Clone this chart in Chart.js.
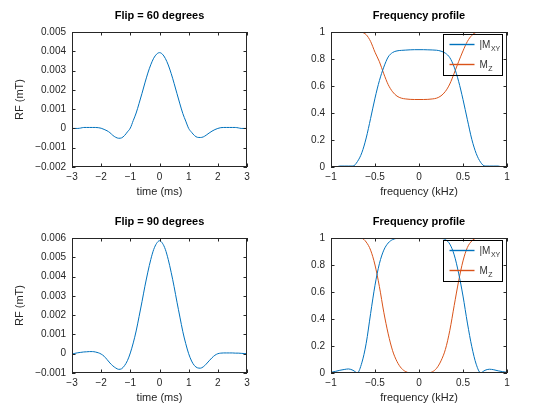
<!DOCTYPE html>
<html>
<head>
<meta charset="utf-8">
<script src="https://cdn.jsdelivr.net/npm/chart.js@4.4.1/dist/chart.umd.min.js"></script>
<style>
  html, body { margin: 0; padding: 0; background: #fff; }
  #fig { position: relative; width: 560px; height: 420px; }
  #fig canvas { position: absolute; }
</style>
</head>
<body>
<div id="fig">
  <canvas id="rf60" width="280" height="210" style="left:0;top:0"></canvas>
  <canvas id="prof60" width="280" height="210" style="left:280px;top:0"></canvas>
  <canvas id="rf90" width="280" height="210" style="left:0;top:210px"></canvas>
  <canvas id="prof90" width="280" height="210" style="left:280px;top:210px"></canvas>
</div>
<script>
// time axis of the RF pulses (ms)
const timeMs = [-3.0, -2.9, -2.8, -2.7, -2.6, -2.5, -2.4, -2.3, -2.2, -2.1, -2.0, -1.9, -1.8, -1.7, -1.6, -1.5,
  -1.4, -1.3, -1.2, -1.1, -1.0, -0.9, -0.8, -0.7, -0.6, -0.5, -0.4, -0.3, -0.2, -0.1, 0.0,
  0.1, 0.2, 0.3, 0.4, 0.5, 0.6, 0.7, 0.8, 0.9, 1.0, 1.1, 1.2, 1.3, 1.4, 1.5,
  1.6, 1.7, 1.8, 1.9, 2.0, 2.1, 2.2, 2.3, 2.4, 2.5, 2.6, 2.7, 2.8, 2.9, 3.0];

// RF amplitude (mT), flip = 60 degrees
const rf60 = [0, 0, 0, 0.00002, 0.00005, 0.00005, 0.00005, 0.00005, 0.00005, 0.00004, 0.00001, -0.00005, -0.00012, -0.00022, -0.00036, -0.00046,
  -0.00051, -0.00049, -0.00037, -0.00018, 0.00002, 0.00041, 0.00080, 0.00130, 0.00182, 0.00236, 0.00287, 0.00330, 0.00364, 0.00385, 0.00393,
  0.00385, 0.00363, 0.00329, 0.00285, 0.00234, 0.00180, 0.00127, 0.00077, 0.00038, 0.00000, -0.00020, -0.00037, -0.00046, -0.00047, -0.00044,
  -0.00035, -0.00024, -0.00014, -0.00006, 0.00000, 0.00004, 0.00005, 0.00005, 0.00005, 0.00005, 0.00005, 0.00003, 0, 0, 0];

// RF amplitude (mT), flip = 90 degrees
const rf90 = [-0.00002, 0.00002, 0.00005, 0.00007, 0.00009, 0.00010, 0.00011, 0.00011, 0.00009, 0.00005, -0.00002, -0.00013, -0.00030, -0.00048, -0.00063, -0.00074,
  -0.00081, -0.00078, -0.00062, -0.00036, 0.00004, 0.00056, 0.00118, 0.00193, 0.00270, 0.00350, 0.00423, 0.00488, 0.00540, 0.00572, 0.00586,
  0.00573, 0.00541, 0.00488, 0.00422, 0.00348, 0.00267, 0.00190, 0.00114, 0.00052, 0.00000, -0.00038, -0.00062, -0.00073, -0.00075, -0.00068,
  -0.00054, -0.00037, -0.00021, -0.00008, 0.00000, 0.00003, 0.00004, 0.00004, 0.00004, 0.00004, 0.00003, 0.00003, 0.00002, 0.00001, 0.00000];

// frequency axis of the slice profiles (kHz)
const freqKHz = [-1.0, -0.95, -0.9, -0.85, -0.8, -0.75, -0.7, -0.65, -0.6, -0.55, -0.5, -0.45, -0.4, -0.35, -0.3, -0.25, -0.2, -0.15, -0.1, -0.05, 0.0,
  0.05, 0.1, 0.15, 0.2, 0.25, 0.3, 0.35, 0.4, 0.45, 0.5, 0.55, 0.6, 0.65, 0.7, 0.75, 0.8, 0.85, 0.9, 0.95, 1.0];

// |Mxy| and Mz, flip = 60 degrees
const mxy60 = [0, 0, 0.007, 0.007, 0.007, 0.007, 0.04, 0.105, 0.215, 0.36, 0.51, 0.64, 0.74, 0.815, 0.848, 0.86, 0.864, 0.866, 0.868, 0.869, 0.869,
  0.869, 0.868, 0.867, 0.865, 0.858, 0.843, 0.81, 0.74, 0.635, 0.5, 0.35, 0.205, 0.1, 0.035, 0.007, 0.007, 0.007, 0.007, 0, 0];
const mz60 = [1, 1, 1, 1, 1, 1, 1, 0.998, 0.98, 0.93, 0.85, 0.78, 0.69, 0.61, 0.557, 0.525, 0.51, 0.504, 0.501, 0.5, 0.5,
  0.5, 0.501, 0.504, 0.51, 0.527, 0.56, 0.615, 0.695, 0.78, 0.86, 0.93, 0.975, 0.997, 1, 1, 1, 1, 1, 1, 1];

// |Mxy| and Mz, flip = 90 degrees
const mxy90 = [0.005, 0.012, 0.02, 0.026, 0.03, 0.02, 0.002, 0.075, 0.22, 0.44, 0.65, 0.81, 0.91, 0.963, 0.988, 0.998, 1, 1, 1, 1, 1,
  1, 1, 1, 1, 0.998, 0.988, 0.955, 0.875, 0.74, 0.57, 0.37, 0.195, 0.065, 0.002, 0.02, 0.028, 0.024, 0.016, 0.01, 0.005];
const mz90 = [1, 1, 1, 1, 1, 1, 1, 0.998, 0.97, 0.91, 0.80, 0.64, 0.45, 0.29, 0.165, 0.085, 0.035, 0.01, 0, 0, 0,
  0, 0, 0.008, 0.035, 0.09, 0.175, 0.315, 0.5, 0.68, 0.83, 0.93, 0.978, 0.998, 1, 1, 1, 1, 1, 1, 1];

const BLUE = '#0072bd';
const ORANGE = '#d95319';
const AXIS_COLOR = '#262626';
const TICK_LEN = 3.5;

// legend entries of the profile plots
const legendLabels = ['|M', 'M'];
const legendSubs = ['XY', 'Z'];
const legendColors = [BLUE, ORANGE];

Chart.defaults.font.family = '"Liberation Sans", Arial, sans-serif';
Chart.defaults.color = AXIS_COLOR;

const toPoints = (xs, ys) => xs.map((x, i) => ({ x: x, y: ys[i] }));
const fmtTick = v => String(Math.round(v * 1e6) / 1e6).replace('-', '\u2212');

// frame, inward ticks on all four sides, bold title and the boxed legend (Octave look)
const octaveAxes = {
  id: 'octaveAxes',
  afterDatasetsDraw(chart, args, opts) {
    const { ctx, chartArea: a } = chart;
    const xs = chart.scales.x, ys = chart.scales.y;
    ctx.save();
    ctx.strokeStyle = AXIS_COLOR;
    ctx.lineWidth = 1;
    ctx.beginPath();
    xs.ticks.forEach(t => {
      const px = Math.round(xs.getPixelForValue(t.value)) + 0.5;
      ctx.moveTo(px, a.top); ctx.lineTo(px, a.top + TICK_LEN);
      ctx.moveTo(px, a.bottom); ctx.lineTo(px, a.bottom - TICK_LEN);
    });
    ys.ticks.forEach(t => {
      const py = Math.round(ys.getPixelForValue(t.value)) + 0.5;
      ctx.moveTo(a.left, py); ctx.lineTo(a.left + TICK_LEN, py);
      ctx.moveTo(a.right, py); ctx.lineTo(a.right - TICK_LEN, py);
    });
    ctx.stroke();
    ctx.strokeRect(a.left + 0.5, a.top + 0.5, a.right - a.left - 1, a.bottom - a.top - 1);

    if (opts.title) {
      ctx.fillStyle = '#000';
      ctx.font = 'bold 11px "Liberation Sans", Arial, sans-serif';
      ctx.textAlign = 'center';
      ctx.textBaseline = 'alphabetic';
      ctx.fillText(opts.title, (a.left + a.right) / 2, a.top - 13.5);
    }

    if (opts.showLegend) {
      const bw = 59, bh = 41;
      const bx = Math.round(a.right - 5 - bw) + 0.5, by = Math.round(a.top + 2) + 0.5;
      ctx.strokeStyle = '#000';
      ctx.lineWidth = 1;
      ctx.strokeRect(bx, by, bw, bh);
      legendLabels.forEach((label, i) => {
        const ly = by + 10 + i * 20;
        ctx.save();
        ctx.strokeStyle = legendColors[i];
        ctx.lineWidth = 1.4;
        ctx.beginPath();
        ctx.moveTo(bx + 6, ly);
        ctx.lineTo(bx + 31, ly);
        ctx.stroke();
        ctx.restore();
        ctx.fillStyle = '#333';
        ctx.textAlign = 'left';
        ctx.textBaseline = 'alphabetic';
        ctx.font = '10px "Liberation Sans", Arial, sans-serif';
        const tx = bx + 36;
        ctx.fillText(label, tx, ly + 3.5);
        const w = ctx.measureText(label).width;
        ctx.font = '7px "Liberation Sans", Arial, sans-serif';
        ctx.fillText(legendSubs[i], tx + w + 0.5, ly + 6);
      });
    }
    ctx.restore();
  }
};

function makePanel(id, box, xCfg, yCfg, datasets, plot) {
  return new Chart(document.getElementById(id), {
    type: 'line',
    data: {
      datasets: datasets.map(d => ({
        data: d.points,
        borderColor: d.color,
        borderWidth: 1,
        pointRadius: 0,
        fill: false,
        cubicInterpolationMode: 'monotone',
        clip: 0
      }))
    },
    options: {
      responsive: false,
      animation: false,
      events: [],
      layout: { padding: { left: 0, top: box.top, right: 280 - box.right, bottom: 0 } },
      scales: {
        x: {
          type: 'linear',
          min: xCfg.min, max: xCfg.max,
          ticks: { stepSize: xCfg.step, padding: 4, font: { size: 10 }, maxRotation: 0, autoSkip: false, callback: fmtTick },
          grid: { display: false, drawTicks: false },
          border: { display: false },
          title: { display: true, text: xCfg.title, font: { size: 11 }, padding: { top: 0, bottom: box.xTitlePad } },
          afterFit(s) { s.height = 210 - box.bottom; s.paddingLeft = 0; s.paddingRight = 0; }
        },
        y: {
          type: 'linear',
          min: yCfg.min, max: yCfg.max,
          ticks: { stepSize: yCfg.step, padding: 6, font: { size: 10 }, autoSkip: false, callback: fmtTick },
          grid: { display: false, drawTicks: false },
          border: { display: false },
          title: { display: !!yCfg.title, text: yCfg.title || '', font: { size: 11 }, padding: { top: 13, bottom: 0 } },
          afterFit(s) { s.width = box.left; s.paddingTop = 0; s.paddingBottom = 0; }
        }
      },
      plugins: {
        legend: { display: false },
        tooltip: { enabled: false },
        octaveAxes: plot
      }
    },
    plugins: [octaveAxes]
  });
}

const topBox = { left: 72, right: 247, top: 32, bottom: 167, xTitlePad: 11 };
const topBoxR = { left: 51, right: 227, top: 32, bottom: 167, xTitlePad: 11 };
const botBox = { left: 72, right: 247, top: 28, bottom: 163, xTitlePad: 15 };
const botBoxR = { left: 51, right: 227, top: 28, bottom: 163, xTitlePad: 15 };

makePanel('rf60', topBox,
  { min: -3, max: 3, step: 1, title: 'time (ms)' },
  { min: -0.002, max: 0.005, step: 0.001, title: 'RF (mT)' },
  [{ points: toPoints(timeMs, rf60), color: BLUE }],
  { title: 'Flip = 60 degrees' });

makePanel('prof60', topBoxR,
  { min: -1, max: 1, step: 0.5, title: 'frequency (kHz)' },
  { min: 0, max: 1, step: 0.2 },
  [{ points: toPoints(freqKHz, mxy60), color: BLUE }, { points: toPoints(freqKHz, mz60), color: ORANGE }],
  { title: 'Frequency profile', showLegend: true });

makePanel('rf90', botBox,
  { min: -3, max: 3, step: 1, title: 'time (ms)' },
  { min: -0.001, max: 0.006, step: 0.001, title: 'RF (mT)' },
  [{ points: toPoints(timeMs, rf90), color: BLUE }],
  { title: 'Flip = 90 degrees' });

makePanel('prof90', botBoxR,
  { min: -1, max: 1, step: 0.5, title: 'frequency (kHz)' },
  { min: 0, max: 1, step: 0.2 },
  [{ points: toPoints(freqKHz, mxy90), color: BLUE }, { points: toPoints(freqKHz, mz90), color: ORANGE }],
  { title: 'Frequency profile', showLegend: true });
</script>
</body>
</html>
